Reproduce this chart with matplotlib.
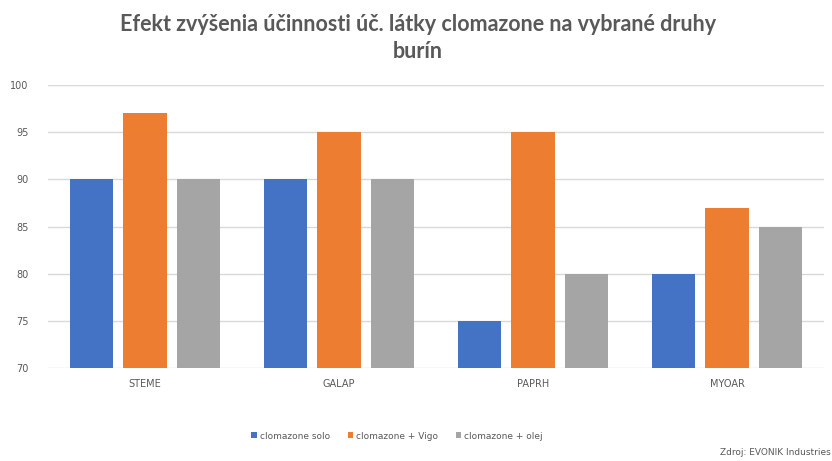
import matplotlib.pyplot as plt
import numpy as np

categories = ["STEME", "GALAP", "PAPRH", "MYOAR"]
series_names = ["clomazone solo", "clomazone + Vigo", "clomazone + olej"]
solo = [90, 90, 75, 80]
vigo = [97, 95, 95, 87]
olej = [90, 90, 80, 85]
colors = ["#4472c4", "#ed7d31", "#a5a5a5"]

fig = plt.figure(figsize=(8.32, 4.61), dpi=100)
ax = fig.add_axes([48 / 832, 1 - 368 / 461, 776 / 832, (368 - 85) / 461])

x = np.arange(len(categories))
w = 0.222
step = 0.275
for i, (vals, name, c) in enumerate(zip([solo, vigo, olej], series_names, colors)):
    ax.bar(x + (i - 1) * step, np.array(vals) - 70, w, bottom=70,
           color=c, label=name, zorder=3)

ax.set_xlim(-0.5, len(categories) - 0.5)
ax.set_ylim(70, 100)
ax.set_yticks(range(70, 101, 5))
ax.set_xticks(x)
ax.set_xticklabels(categories)
ax.grid(axis="y", color="#d9d9d9", linewidth=1, zorder=0)
for s in ax.spines.values():
    s.set_visible(False)
ax.tick_params(length=0, colors="#595959", labelsize=7)
ax.tick_params(axis="y", pad=14)
ax.tick_params(axis="x", pad=8)

fig.text(418 / 832, 1 - 38 / 461,
         "Efekt zvýšenia účinnosti úč. látky clomazone na vybrané druhy\nburín",
         ha="center", va="center", fontsize=15.5, color="#595959",
         family="Lato", fontweight="bold", linespacing=1.35)

fig.legend(loc="center", bbox_to_anchor=(397 / 832, 1 - 436 / 461), ncol=3,
           frameon=False, fontsize=6.5, labelcolor="#595959",
           handlelength=0.6, handleheight=0.6, handletextpad=0.3, columnspacing=2.0)

fig.text(0.999, 1 - 452 / 461, "Zdroj: EVONIK Industries", ha="right",
         va="center", fontsize=6.5, color="#595959")

fig.savefig("out.png", dpi=100)
